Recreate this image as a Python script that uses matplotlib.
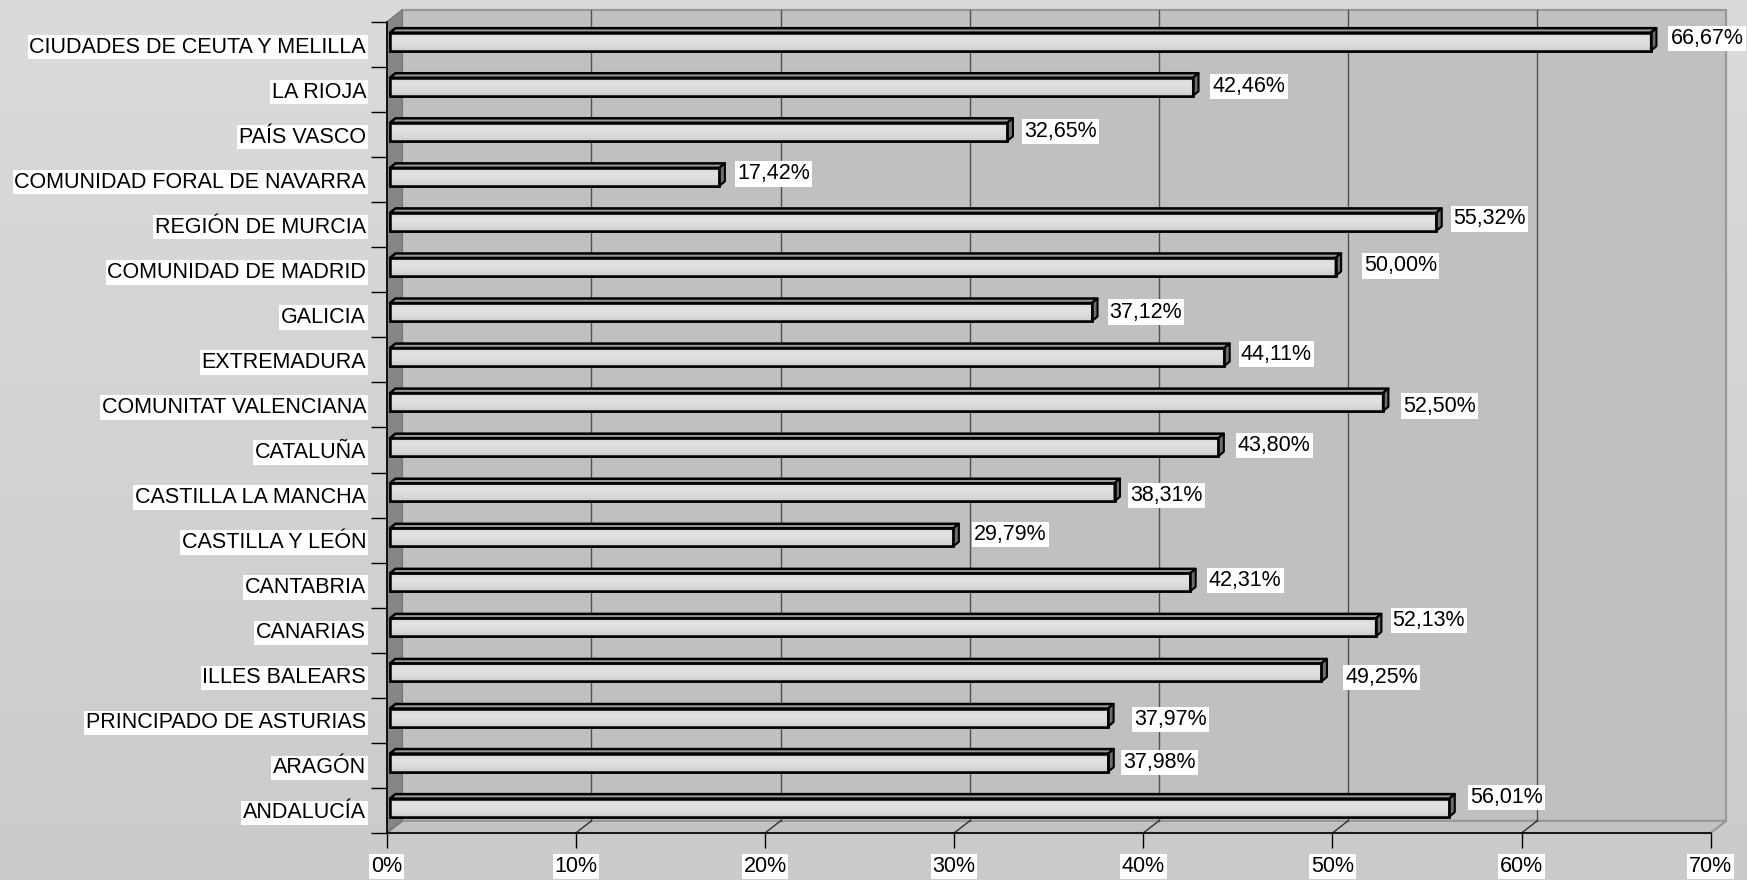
import numpy as np
import matplotlib
matplotlib.use("Agg")
from matplotlib import pyplot as plt
from matplotlib.patches import Polygon
from matplotlib.colors import LinearSegmentedColormap

# data, top to bottom as in the chart
regions = [
    "CIUDADES DE CEUTA Y MELILLA", "LA RIOJA", "PAÍS VASCO",
    "COMUNIDAD FORAL DE NAVARRA", "REGIÓN DE MURCIA", "COMUNIDAD DE MADRID",
    "GALICIA", "EXTREMADURA", "COMUNITAT VALENCIANA", "CATALUÑA",
    "CASTILLA LA MANCHA", "CASTILLA Y LEÓN", "CANTABRIA", "CANARIAS",
    "ILLES BALEARS", "PRINCIPADO DE ASTURIAS", "ARAGÓN", "ANDALUCÍA",
]
values = [66.67, 42.46, 32.65, 17.42, 55.32, 50.00, 37.12, 44.11, 52.50,
          43.80, 38.31, 29.79, 42.31, 52.13, 49.25, 37.97, 37.98, 56.01]
x_ticks = [0, 10, 20, 30, 40, 50, 60, 70]
x_tick_labels = [f"{t}%" for t in x_ticks]

# label nudges (pixels from bar end, +dy = down), like the Excel original
label_dx = [56, 56, 53, 54, 53, 65, 54, 52, 57, 56, 52, 57, 55, 53, 60, 62, 51, 57]
label_dy = [-3, 0, 0, -3, -3, -1, 0, -3, 4, -2, 3, -3, -2, -7, 5, 2, 0, -10]

plt.rcParams['font.family'] = ['Liberation Sans', 'DejaVu Sans']
FS = 15.5

W, H = 1747, 880
x0_px, x1_px, y0_px, y1_px = 386.7, 1710.7, 22, 833
n = len(regions)
XMAX = 70

DX, DY = 0.825, 0.27      # depth of the box (data units)
S = 0.17                  # bar start inside the depth
BH = 0.4                  # bar front height
BOFF = 0.363              # bar bottom inside the category slot
BDX, BDY = 0.29, 0.1      # bar depth

fig = plt.figure(figsize=(W / 100, H / 100), dpi=100)

# background gradient
bg = fig.add_axes([0, 0, 1, 1], zorder=-10)
bg_cmap = LinearSegmentedColormap.from_list("bg", ["#cbcbcb", "#dbdbdb"])
bg.imshow(np.linspace(0, 1, 256).reshape(-1, 1), cmap=bg_cmap, origin="lower",
          extent=[0, 1, 0, 1], aspect="auto")
bg.axis("off")

ax = fig.add_axes([x0_px / W, (H - y1_px) / H, (x1_px - x0_px) / W, (y1_px - y0_px) / H])
ax.set_facecolor("none")

# walls and floor
ax.add_patch(Polygon([(DX, DY), (XMAX + DX, DY), (XMAX + DX, n + DY), (DX, n + DY)],
                     closed=True, fc="#c0c0c0", ec="#999999", lw=1.6, clip_on=False, zorder=1))
ax.add_patch(Polygon([(0, 0), (XMAX, 0), (XMAX + DX, DY), (DX, DY)],
                     closed=True, fc="#c2c2c2", ec="#999999", lw=1.6, clip_on=False, zorder=1))
ax.add_patch(Polygon([(0, 0), (DX, DY), (DX, n + DY), (0, n)],
                     closed=True, fc="#868686", ec="#777777", lw=1.0, clip_on=False, zorder=1))

for t in x_ticks[1:-1]:
    ax.plot([t + DX, t + DX], [DY, n + DY], color="#505050", lw=1.0, clip_on=False, zorder=2)
    ax.plot([t, t + DX], [0, DY], color="#303030", lw=1.0, clip_on=False, zorder=2)

# bars
face_cmap = LinearSegmentedColormap.from_list("face", ["#cdcdcd", "#dddddd", "#e2e2e2", "#d4d4d4"])
ypos = [n - 1 - k + BOFF for k in range(n)]
bars = ax.barh([y + BH / 2 for y in ypos], values, left=S, height=BH,
               color="#d8d8d8", edgecolor="black", linewidth=1.8, zorder=4)
for bar, y, v in zip(bars, ypos, values):
    im = ax.imshow(np.linspace(0, 1, 64).reshape(-1, 1), cmap=face_cmap, origin="lower",
                   extent=[S, S + v, y, y + BH], aspect="auto", zorder=4.1)
    im.set_clip_path(bar)
    top = Polygon([(S, y + BH), (S + v, y + BH), (S + v + BDX, y + BH + BDY), (S + BDX, y + BH + BDY)],
                  closed=True, fc="#9a9a9a", ec="black", lw=1.8, zorder=4.2, joinstyle="round")
    side = Polygon([(S + v, y), (S + v + BDX, y + BDY), (S + v + BDX, y + BH + BDY), (S + v, y + BH)],
                   closed=True, fc="#6e6e6e", ec="black", lw=1.5, zorder=4.2, joinstyle="round")
    ax.add_patch(top)
    ax.add_patch(side)
    # redraw front outline above the gradient
    ax.add_patch(Polygon([(S, y), (S + v, y), (S + v, y + BH), (S, y + BH)], closed=True,
                         fc="none", ec="black", lw=1.8, zorder=4.3))

ax.set_xlim(0, XMAX)
ax.set_ylim(0, n)

box = dict(boxstyle="square,pad=0.1", fc="white", ec="none")
for k, v in enumerate(values):
    txt = f"{v:.2f}%".replace(".", ",")
    ax.annotate(txt, xy=(S + v, ypos[k] + BH / 2), xytext=(label_dx[k], -label_dy[k]),
                textcoords="offset pixels", ha="center", va="center", fontsize=FS,
                bbox=box, zorder=6, annotation_clip=False)

# axes, ticks and labels
for side in ["top", "right"]:
    ax.spines[side].set_visible(False)
ax.spines["left"].set_color("black")
ax.spines["bottom"].set_color("black")
ax.spines["left"].set_linewidth(1.2)
ax.spines["bottom"].set_linewidth(1.2)
ax.spines["left"].set_zorder(3)
ax.spines["bottom"].set_zorder(3)

ax.set_xticks(x_ticks, x_tick_labels)
ax.tick_params(axis="x", direction="out", length=10.8, width=1.0, pad=5.8, labelsize=FS)
ax.set_yticks(np.arange(n + 1))
ax.set_yticklabels([])
ax.set_yticks(np.arange(n) + 0.5, minor=True)
ax.set_yticklabels(regions[::-1], minor=True)
ax.tick_params(axis="y", which="major", direction="out", length=11.5, width=1.0)
ax.tick_params(axis="y", which="minor", length=0, pad=14.8, labelsize=FS)
for lab in ax.get_xticklabels() + ax.get_yticklabels(minor=True):
    lab.set_bbox(dict(boxstyle="square,pad=0.08", fc="white", ec="none"))

fig.savefig("out.png", dpi=100)
